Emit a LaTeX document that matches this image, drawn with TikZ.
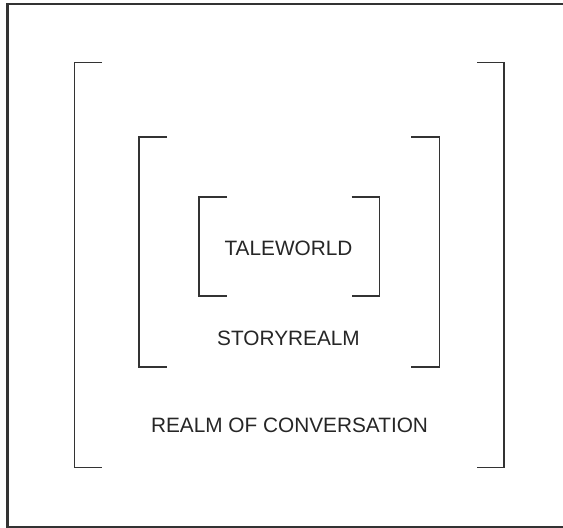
\documentclass[tikz,border=0pt]{standalone}
\usepackage{fontspec}
\setmainfont{Liberation Sans}
\begin{document}
\begin{tikzpicture}[x=1pt,y=-1pt,
  frameline/.style={draw=black!80,line width=2.2pt},
  bracketline/.style={draw=black!80,line width=1.6pt},
  realmlabel/.style={anchor=base,inner sep=0pt,text=black!85,font=\fontsize{20.8}{24}\selectfont}]
\useasboundingbox (0,0) rectangle (563,528);
% outer frame (right side lies outside the picture)
\draw[frameline] (563,4) -- (7.5,4) -- (7.5,527) -- (563,527);
% outer brackets
\draw[bracketline] (102,62.5) -- (74.5,62.5) -- (74.5,467.5) -- (102,467.5);
\draw[bracketline] (477,62.5) -- (504,62.5) -- (504,467.5) -- (477,467.5);
% middle brackets
\draw[bracketline] (167,136.7) -- (139,136.7) -- (139,367) -- (167,367);
\draw[bracketline] (411,136.7) -- (439.3,136.7) -- (439.3,367) -- (411,367);
% inner brackets
\draw[bracketline] (227,197) -- (198.7,197) -- (198.7,295.7) -- (227,295.7);
\draw[bracketline] (351.7,197) -- (379.3,197) -- (379.3,295.7) -- (351.7,295.7);
% labels
\node[realmlabel] (tale) at (288.5,255) {TALEWORLD};
\node[realmlabel] (story) at (288.5,345) {STORYREALM};
\node[realmlabel] (conv) at (289.5,432) {REALM OF CONVERSATION};
\end{tikzpicture}
\end{document}
